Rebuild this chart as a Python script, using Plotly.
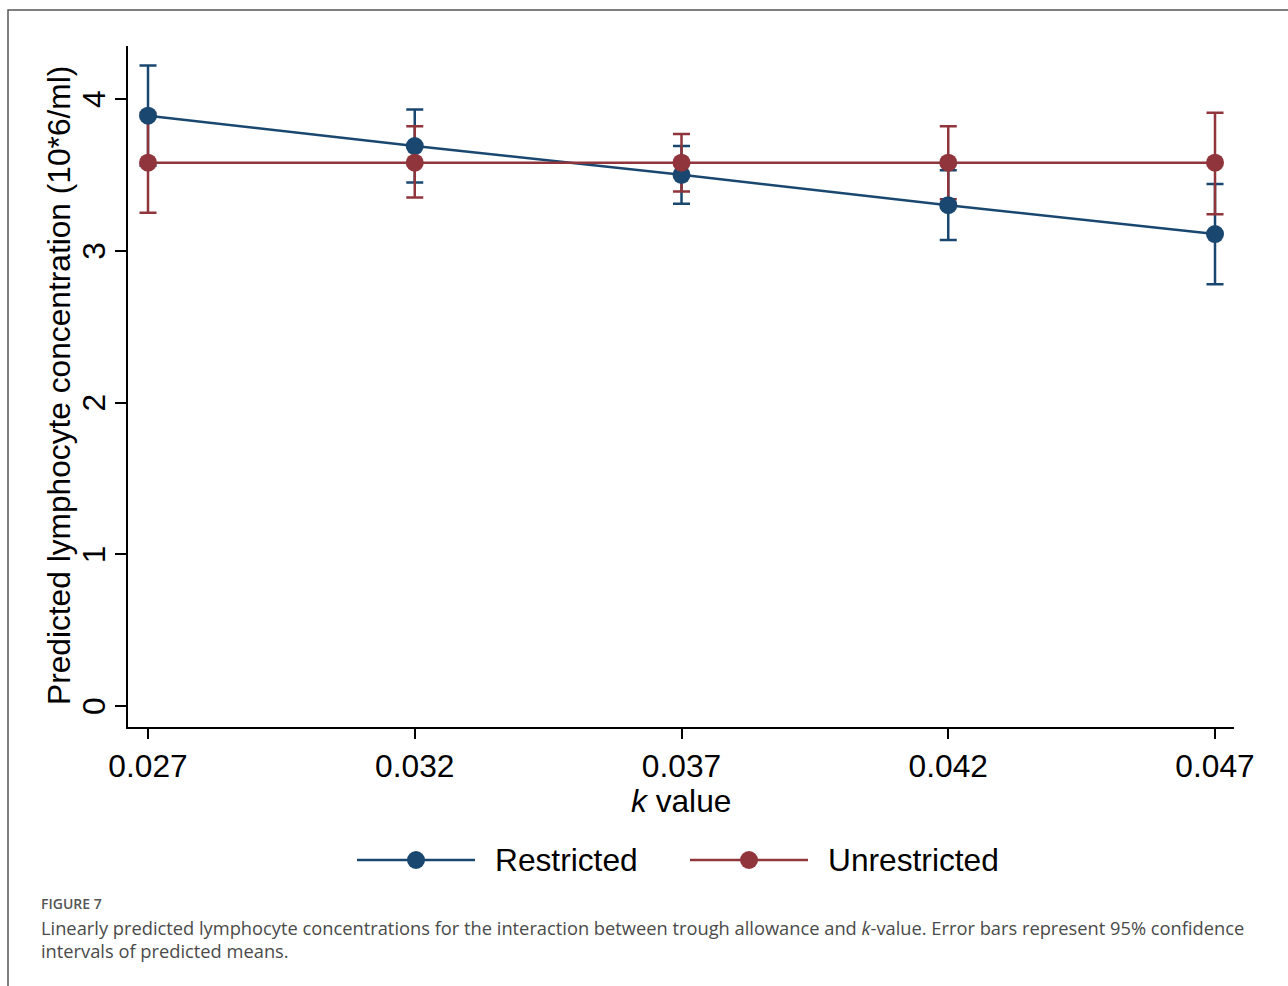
import plotly.graph_objects as go

# k values on the x-axis
k_values = [0.027, 0.032, 0.037, 0.042, 0.047]
x_tick_labels = ["0.027", "0.032", "0.037", "0.042", "0.047"]

# Predicted means and 95% CI bounds (10*6/ml)
restricted_mean = [3.89, 3.69, 3.50, 3.30, 3.11]
restricted_lower = [3.56, 3.45, 3.31, 3.07, 2.78]
restricted_upper = [4.22, 3.93, 3.69, 3.53, 3.44]

unrestricted_mean = [3.58, 3.58, 3.58, 3.58, 3.58]
unrestricted_lower = [3.25, 3.35, 3.39, 3.34, 3.24]
unrestricted_upper = [3.91, 3.82, 3.77, 3.82, 3.91]

y_ticks = [0, 1, 2, 3, 4]

BLUE = "#1a476f"
RED = "#90353b"
FONT = "Liberation Sans, Arial"
FS = 31.7

W, H = 1288, 986
L, R, T, B = 128, 1234, 46, 727


def px_x(p):
    return (p - L) / (R - L)


def px_y(p):
    return (B - p) / (B - T)


def ci_trace(mean, lo, hi, color):
    return go.Scatter(
        x=k_values, y=mean, mode="markers",
        marker=dict(size=1, color="rgba(0,0,0,0)"),
        error_y=dict(
            type="data", symmetric=False,
            array=[h - m for h, m in zip(hi, mean)],
            arrayminus=[m - l for m, l in zip(mean, lo)],
            color=color, thickness=2.5, width=8.5,
        ),
        showlegend=False, hoverinfo="skip",
    )


fig = go.Figure()
fig.add_trace(ci_trace(restricted_mean, restricted_lower, restricted_upper, BLUE))
fig.add_trace(ci_trace(unrestricted_mean, unrestricted_lower, unrestricted_upper, RED))
fig.add_trace(go.Scatter(
    x=k_values, y=restricted_mean, mode="lines+markers", name="Restricted",
    line=dict(color=BLUE, width=2.5), marker=dict(color=BLUE, size=18),
    showlegend=False,
))
fig.add_trace(go.Scatter(
    x=k_values, y=unrestricted_mean, mode="lines+markers", name="Unrestricted",
    line=dict(color=RED, width=2.5), marker=dict(color=RED, size=18),
    showlegend=False,
))

shapes = []
annotations = []

# outer frame
shapes.append(dict(type="rect", xref="paper", yref="paper",
                   x0=px_x(8), x1=px_x(1300), y0=px_y(1000), y1=px_y(10),
                   line=dict(color="#555555", width=1.5), fillcolor="rgba(0,0,0,0)",
                   layer="below"))

# legend keys
legend_items = [("Restricted", BLUE, 357, 475, 496), ("Unrestricted", RED, 690, 808, 829)]
LEG_Y = 860
for name, color, x0, x1, tx in legend_items:
    shapes.append(dict(type="line", xref="paper", yref="paper",
                       x0=px_x(x0), x1=px_x(x1), y0=px_y(LEG_Y), y1=px_y(LEG_Y),
                       line=dict(color=color, width=2.5)))
    cx = (x0 + x1) / 2
    shapes.append(dict(type="circle", xref="paper", yref="paper",
                       x0=px_x(cx - 9), x1=px_x(cx + 9),
                       y0=px_y(LEG_Y + 9), y1=px_y(LEG_Y - 9),
                       line=dict(color=color, width=0), fillcolor=color))
    annotations.append(dict(text=name, xref="paper", yref="paper",
                            x=px_x(tx - 3), y=px_y(LEG_Y), xanchor="left", yanchor="middle",
                            showarrow=False,
                            font=dict(family=FONT, size=FS, color="#000")))

# caption
annotations.append(dict(text="FIGURE 7", xref="paper", yref="paper",
                        x=px_x(39), y=px_y(903), xanchor="left", yanchor="middle",
                        showarrow=False,
                        font=dict(family="Open Sans", size=14, color="#555555", weight=600)))
caption_lines = [
    "Linearly predicted lymphocyte concentrations for the interaction between trough allowance and <i>k</i>-value. Error bars represent 95% confidence",
    "intervals of predicted means.",
]
for i, line in enumerate(caption_lines):
    annotations.append(dict(text=line, xref="paper", yref="paper",
                            x=px_x(39), y=px_y(927 + 23.5 * i), xanchor="left", yanchor="middle",
                            showarrow=False,
                            font=dict(family="Open Sans", size=18.3, color="#4a4a4a")))

# y tick labels (rotated)
for v in y_ticks:
    annotations.append(dict(text=str(v), xref="paper", yref="y",
                            x=px_x(94), y=v, xanchor="center", yanchor="middle",
                            textangle=-90, showarrow=False,
                            font=dict(family=FONT, size=FS, color="#000")))

# y-axis title
annotations.append(dict(text="Predicted lymphocyte concentration (10*6/ml)",
                        xref="paper", yref="paper", x=px_x(59), y=px_y(386),
                        xanchor="center", yanchor="middle", textangle=-90, showarrow=False,
                        font=dict(family=FONT, size=FS, color="#000")))

# x-axis title
annotations.append(dict(text="<i>k</i> value", xref="paper", yref="paper",
                        x=px_x(681), y=px_y(801), xanchor="center", yanchor="middle",
                        showarrow=False,
                        font=dict(family=FONT, size=FS, color="#000")))

fig.update_layout(
    width=W, height=H,
    margin=dict(l=L, r=W - R, t=T, b=H - B),
    paper_bgcolor="white", plot_bgcolor="white",
    showlegend=False,
    shapes=shapes, annotations=annotations,
    xaxis=dict(
        range=[0.026625, 0.047356], tickvals=k_values, ticktext=x_tick_labels,
        showgrid=False, zeroline=False, showline=True, linecolor="#000", linewidth=2,
        ticks="outside", ticklen=10, tickwidth=2, tickcolor="#000",
        tickfont=dict(family=FONT, size=FS, color="#000"),
    ),
    yaxis=dict(
        range=[-0.138, 4.349], tickvals=y_ticks, showticklabels=False,
        showgrid=False, zeroline=False, showline=True, linecolor="#000", linewidth=2,
        ticks="outside", ticklen=11, tickwidth=2, tickcolor="#000",
    ),
)

fig.write_html("out.html")
